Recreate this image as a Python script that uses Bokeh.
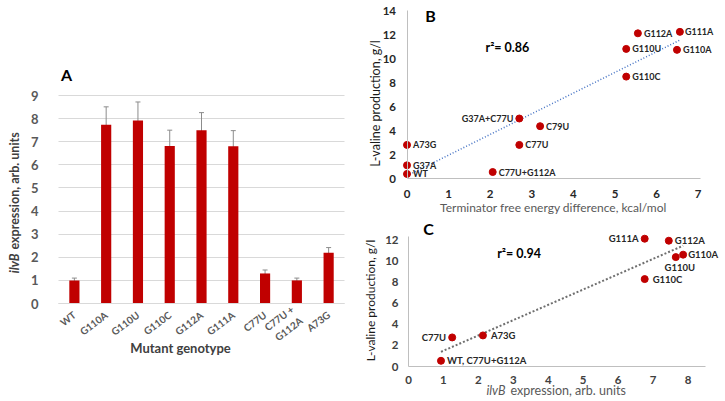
import numpy as np
from bokeh.plotting import figure
from bokeh.models import (ColumnDataSource, Range1d, FixedTicker, Label,
                          LabelSet, Whisker, TeeHead)
from bokeh.core.properties import value
from bokeh.layouts import row, column
from bokeh.embed import file_html
from bokeh.resources import INLINE

FONT = "Lato"
RED = "#C00000"

# ---- Panel A: ilvB expression per mutant ----
genotypes = ["WT", "G110A", "G110U", "G110C", "G112A", "G111A", "C77U",
             "C77U +\nG112A", "A73G"]
ilvb_expr = [1.0, 7.73, 7.92, 6.82, 7.5, 6.8, 1.3, 1.0, 2.2]
ilvb_err = [0.1, 0.78, 0.8, 0.68, 0.76, 0.68, 0.15, 0.1, 0.22]
a_yticks = list(range(0, 10))

# ---- Panel B: valine vs terminator free energy difference ----
b_mutants = ["WT", "G37A", "A73G", "C77U+G112A", "C77U", "G37A+C77U", "C79U",
             "G110C", "G110U", "G112A", "G111A", "G110A"]
b_dg = [0.0, 0.0, 0.0, 2.06, 2.7, 2.7, 3.2, 5.27, 5.27, 5.55, 6.56, 6.49]
b_valine = [0.38, 1.1, 2.8, 0.54, 2.8, 5.0, 4.36, 8.49, 10.8, 12.1, 12.22, 10.72]
b_xticks = list(range(0, 8))
b_yticks = list(range(0, 15, 2))
b_r2 = "r\u00b2= 0.86"

# ---- Panel C: valine vs ilvB expression ----
c_mutants = ["WT, C77U+G112A", "C77U", "A73G", "G110C", "G111A", "G112A",
             "G110U", "G110A"]
c_expr = [0.93, 1.25, 2.13, 6.76, 6.76, 7.45, 7.65, 7.86]
c_valine = [0.54, 2.75, 2.94, 8.27, 12.09, 11.9, 10.35, 10.58]
c_xticks = list(range(0, 9))
c_yticks = list(range(0, 13, 2))
c_r2 = "r\u00b2= 0.94"


class Canvas:
    """Maps page pixels to data units for a panel whose frame fills the canvas."""

    def __init__(self, left, top, width, height, x0px, xs, y0px, ys):
        self.left, self.top, self.width, self.height = left, top, width, height
        self.x0px, self.xs, self.y0px, self.ys = x0px, xs, y0px, ys

    def x(self, gx):
        return (gx - self.x0px) / self.xs

    def y(self, gy):
        return (self.y0px - gy) / self.ys

    def figure(self):
        p = figure(x_range=Range1d(self.x(self.left), self.x(self.left + self.width)),
                   y_range=Range1d(self.y(self.top + self.height), self.y(self.top)),
                   width=self.width, height=self.height, title=None,
                   min_border=0, min_border_left=0, min_border_right=0,
                   min_border_top=0, min_border_bottom=0,
                   output_backend="svg", toolbar_location=None)
        p.outline_line_color = None
        p.background_fill_color = "white"
        p.border_fill_color = "white"
        p.xgrid.grid_line_color = None
        p.ygrid.grid_line_color = None
        for ax in (p.xaxis, p.yaxis):
            ax.fixed_location = 0
            ax.major_tick_line_color = None
            ax.minor_tick_line_color = None
            ax.major_label_text_font = FONT
            ax.major_label_text_font_style = "bold"
        return p


def label(p, x, y, text, size, color="#000000", style="normal",
          align="center", angle=0.0):
    p.add_layout(Label(x=x, y=y, text=text, text_font=FONT,
                       text_font_size=size, text_color=color,
                       text_font_style=style, text_align=align,
                       text_baseline="middle", angle=angle))


# ================= Panel A =================
cA = Canvas(0, 0, 360, 401, x0px=58 + 31.78 / 2, xs=31.78, y0px=303, ys=23.11)
pA = cA.figure()
xpos = list(range(len(genotypes)))
pA.yaxis.fixed_location = -0.5
pA.yaxis.ticker = FixedTicker(ticks=a_yticks)
pA.yaxis.axis_line_color = None
pA.yaxis.major_label_text_font_size = "13px"
pA.yaxis.major_label_text_color = "#595959"
pA.yaxis.major_label_standoff = 14
pA.ygrid.grid_line_color = "#d9d9d9"
pA.ygrid.ticker = FixedTicker(ticks=a_yticks)
pA.ygrid.cross_bounds = (-0.5, len(genotypes) - 0.5)
pA.xaxis.bounds = (-0.5, len(genotypes) - 0.5)
pA.xaxis.ticker = FixedTicker(ticks=xpos)
pA.xaxis.major_label_overrides = {i: g for i, g in zip(xpos, genotypes)}
pA.xaxis.axis_line_color = "#d9d9d9"
pA.xaxis.major_label_orientation = 0.65
pA.xaxis.major_label_text_font_size = "10px"
pA.xaxis.major_label_text_color = "#595959"
pA.xaxis.major_label_standoff = 4

srcA = ColumnDataSource(dict(
    x=xpos, v=ilvb_expr,
    lo=[v - e for v, e in zip(ilvb_expr, ilvb_err)],
    hi=[v + e for v, e in zip(ilvb_expr, ilvb_err)]))
pA.vbar(x="x", top="v", width=0.32, source=srcA, fill_color=RED,
        line_color=None)
pA.add_layout(Whisker(base="x", lower="lo", upper="hi", source=srcA,
                      line_color="#8c8c8c", line_width=1,
                      upper_head=TeeHead(size=5, line_color="#8c8c8c"),
                      lower_head=TeeHead(size=5, line_color="#8c8c8c")))

label(pA, cA.x(66), cA.y(74), "A", "16px", style="bold")
# rotated y title with italic gene name
label(pA, cA.x(14), cA.y(253), "ilvB", "12.5px", color="#404040",
      style="bold italic", align="right", angle=np.pi / 2)
label(pA, cA.x(14), cA.y(249), "expression, arb. units", "12.5px",
      color="#404040", style="bold", align="left", angle=np.pi / 2)
label(pA, cA.x(180), cA.y(347), "Mutant genotype", "13px", color="#404040",
      style="bold")

# ================= Panel B =================
cB = Canvas(360, 0, 365, 214, x0px=406.5, xs=41.6, y0px=178, ys=12)
pB = cB.figure()
pB.xaxis.ticker = FixedTicker(ticks=b_xticks)
pB.yaxis.ticker = FixedTicker(ticks=b_yticks)
pB.xaxis.bounds = (0, 7.06)
pB.yaxis.bounds = (0, 14)
for ax in (pB.xaxis, pB.yaxis):
    ax.axis_line_color = "#bfbfbf"
    ax.major_label_text_font_size = "11.5px"
    ax.major_label_text_color = "#262626"
pB.yaxis.major_label_standoff = 5
pB.xaxis.major_label_standoff = 5

kB = np.polyfit(b_dg, b_valine, 1)
fitB_x = [min(b_dg), max(b_dg)]
pB.line(fitB_x, list(np.polyval(kB, fitB_x)), line_color="#4472C4",
        line_width=1.5, line_dash="1 2")

srcB = ColumnDataSource(dict(
    x=b_dg, y=b_valine, name=b_mutants,
    dx=[6, 6, 6, 6, 6, -6, 6, 6, 6, 6, 5, 6],
    al=["left"] * 5 + ["right"] + ["left"] * 6))
pB.scatter("x", "y", source=srcB, size=7, fill_color=RED, line_color=RED)
pB.add_layout(LabelSet(x="x", y="y", text="name", source=srcB,
                       x_offset="dx", text_align="al",
                       text_baseline="middle", text_font=value(FONT),
                       text_font_size="9px", text_font_style="bold",
                       text_color="#262626"))

label(pB, cB.x(430), cB.y(15), "B", "16px", style="bold")
label(pB, cB.x(485), cB.y(47), b_r2, "12.5px", style="bold", align="left")
label(pB, cB.x(375), cB.y(103), "L-valine production, g/l", "12.5px",
      color="#1a1a1a", angle=np.pi / 2)
label(pB, cB.x(553), cB.y(207), "Terminator free energy difference, kcal/mol",
      "12px", color="#595959")

# ================= Panel C =================
cC = Canvas(360, 214, 365, 187, x0px=408, xs=34.94, y0px=366, ys=10.57)
pC = cC.figure()
pC.xaxis.ticker = FixedTicker(ticks=c_xticks)
pC.yaxis.ticker = FixedTicker(ticks=c_yticks)
pC.xaxis.bounds = (0, 8.5)
pC.yaxis.bounds = (0, 12.3)
for ax in (pC.xaxis, pC.yaxis):
    ax.axis_line_color = "#bfbfbf"
    ax.major_label_text_font_size = "11.5px"
    ax.major_label_text_color = "#404040"
pC.yaxis.major_label_standoff = 4
pC.xaxis.major_label_standoff = 3

kC = np.polyfit(c_expr, c_valine, 1)
fitC_x = [min(c_expr), max(c_expr)]
pC.line(fitC_x, list(np.polyval(kC, fitC_x)), line_color="#6f6f6f",
        line_width=2, line_dash="2 2")

srcC = ColumnDataSource(dict(
    x=c_expr, y=c_valine, name=c_mutants,
    dx=[6, -6, 8, 8, -6, 6, 4, 5],
    dy=[0, 0, 0, 0, 0, 0, -10, 0],
    al=["left", "right", "left", "left", "right", "left", "center", "left"]))
pC.scatter("x", "y", source=srcC, size=7, fill_color=RED, line_color=RED)
pC.add_layout(LabelSet(x="x", y="y", text="name", source=srcC,
                       x_offset="dx", y_offset="dy", text_align="al",
                       text_baseline="middle", text_font=value(FONT),
                       text_font_size="9.5px", text_font_style="bold",
                       text_color="#262626"))

label(pC, cC.x(428), cC.y(228), "C", "16px", style="bold")
label(pC, cC.x(496.7), cC.y(253), c_r2, "12.5px", style="bold", align="left")
label(pC, cC.x(370), cC.y(300), "L-valine production, g/l", "12px",
      color="#1a1a1a", angle=np.pi / 2)
label(pC, cC.x(505), cC.y(390), "ilvB", "12.5px", color="#595959",
      style="italic", align="right")
label(pC, cC.x(510), cC.y(390), "expression, arb. units", "12.5px",
      color="#595959", align="left")

layout = row(pA, column(pB, pC))
open("out.html", "w").write(file_html(layout, INLINE))
